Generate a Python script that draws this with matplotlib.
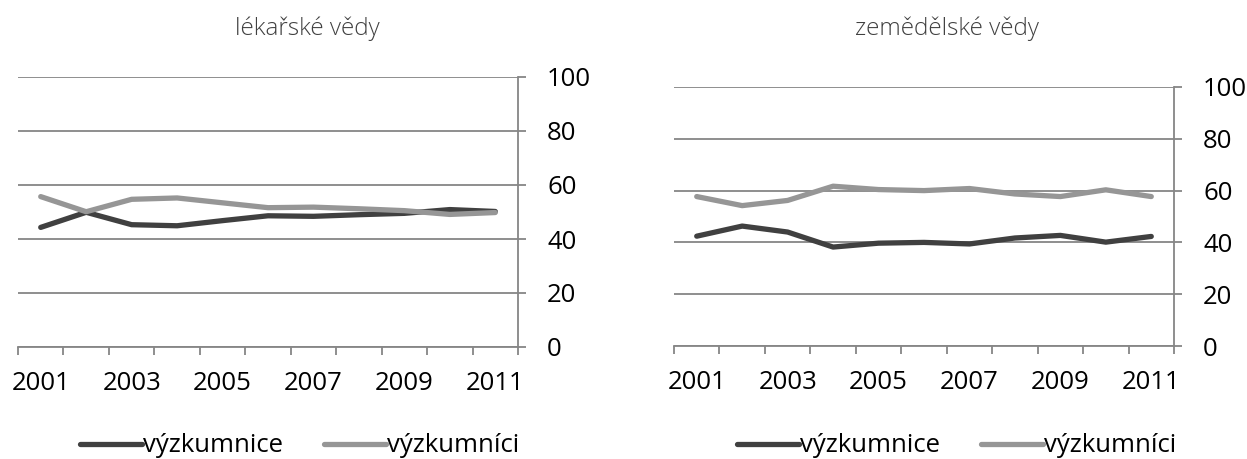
import matplotlib
matplotlib.use("Agg")
import matplotlib.pyplot as plt
from matplotlib.ticker import FixedLocator, NullFormatter

years = [2001, 2002, 2003, 2004, 2005, 2006, 2007, 2008, 2009, 2010, 2011]
year_labels = ["2001", "", "2003", "", "2005", "", "2007", "", "2009", "", "2011"]
yticks = [0, 20, 40, 60, 80, 100]

titles = ["lékařské vědy", "zemědělské vědy"]
series_names = ["výzkumnice", "výzkumníci"]

med_women = [44.3, 49.9, 45.3, 44.9, 46.8, 48.6, 48.4, 49.0, 49.5, 50.9, 50.2]
med_men = [55.7, 50.1, 54.7, 55.2, 53.4, 51.6, 51.8, 51.2, 50.5, 49.1, 49.8]
agr_women = [42.4, 46.3, 44.0, 38.2, 39.7, 40.0, 39.4, 41.7, 42.7, 40.1, 42.3]
agr_men = [57.7, 54.2, 56.2, 61.7, 60.4, 60.0, 60.8, 58.7, 57.7, 60.3, 57.7]

DARK = "#404040"
LIGHT = "#969696"
GRID = "#868686"
FONT = ["Open Sans", "DejaVu Sans"]
FS = 18.5

W, H = 1247, 459
fig = plt.figure(figsize=(W / 100, H / 100), dpi=100)
fig.patch.set_facecolor("white")

def px_axes(x0, x1, ytop, ybot):
    return fig.add_axes([x0 / W, 1 - ybot / H, (x1 - x0) / W, (ybot - ytop) / H])

panels = [
    dict(ax=px_axes(18, 518, 77, 347), w=med_women, m=med_men, title=titles[0],
         tx=307, ty=29, lx=300),
    dict(ax=px_axes(674, 1174, 87, 346), w=agr_women, m=agr_men, title=titles[1],
         tx=947, ty=29, lx=957),
]

idx = list(range(len(years)))
for p in panels:
    ax = p["ax"]
    l1, = ax.plot(idx, p["w"], color=DARK, lw=3.8, solid_capstyle="round",
                  solid_joinstyle="round", label=series_names[0], zorder=3)
    l2, = ax.plot(idx, p["m"], color=LIGHT, lw=3.8, solid_capstyle="round",
                  solid_joinstyle="round", label=series_names[1], zorder=3)
    ax.set_xlim(-0.5, len(years) - 0.5)
    ax.set_ylim(0, 100)
    for s in ["left", "top"]:
        ax.spines[s].set_visible(False)
    for s in ["bottom", "right"]:
        ax.spines[s].set_color(GRID)
        ax.spines[s].set_linewidth(1.3)
    ax.yaxis.tick_right()
    ax.set_yticks(yticks)
    ax.set_yticklabels([str(v) for v in yticks], fontsize=FS, family=FONT)
    ax.tick_params(axis="y", direction="out", length=6, width=1.3, color=GRID, pad=15)
    ax.set_xticks(idx)
    ax.set_xticklabels(year_labels, fontsize=FS, family=FONT)
    ax.tick_params(axis="x", which="major", length=0, pad=17)
    ax.xaxis.set_minor_locator(FixedLocator([i - 0.5 for i in range(len(years) + 1)]))
    ax.xaxis.set_minor_formatter(NullFormatter())
    ax.tick_params(axis="x", which="minor", direction="out", length=6, width=1.3, color=GRID)
    ax.grid(axis="y", color=GRID, lw=1.3, zorder=0)
    ax.set_axisbelow(True)
    fig.text(p["tx"] / W, 1 - p["ty"] / H, p["title"], ha="center", va="center",
             fontsize=17.5, color="#404040", family=FONT, fontweight="light")
    fig.legend(handles=[l1, l2], loc="center", bbox_to_anchor=(p["lx"] / W, 1 - 446 / H),
               ncol=2, frameon=False, handlelength=2.4, handletextpad=0.05,
               columnspacing=1.6, prop=dict(family=FONT, size=FS))

fig.savefig("out.png", dpi=100, facecolor="white")
